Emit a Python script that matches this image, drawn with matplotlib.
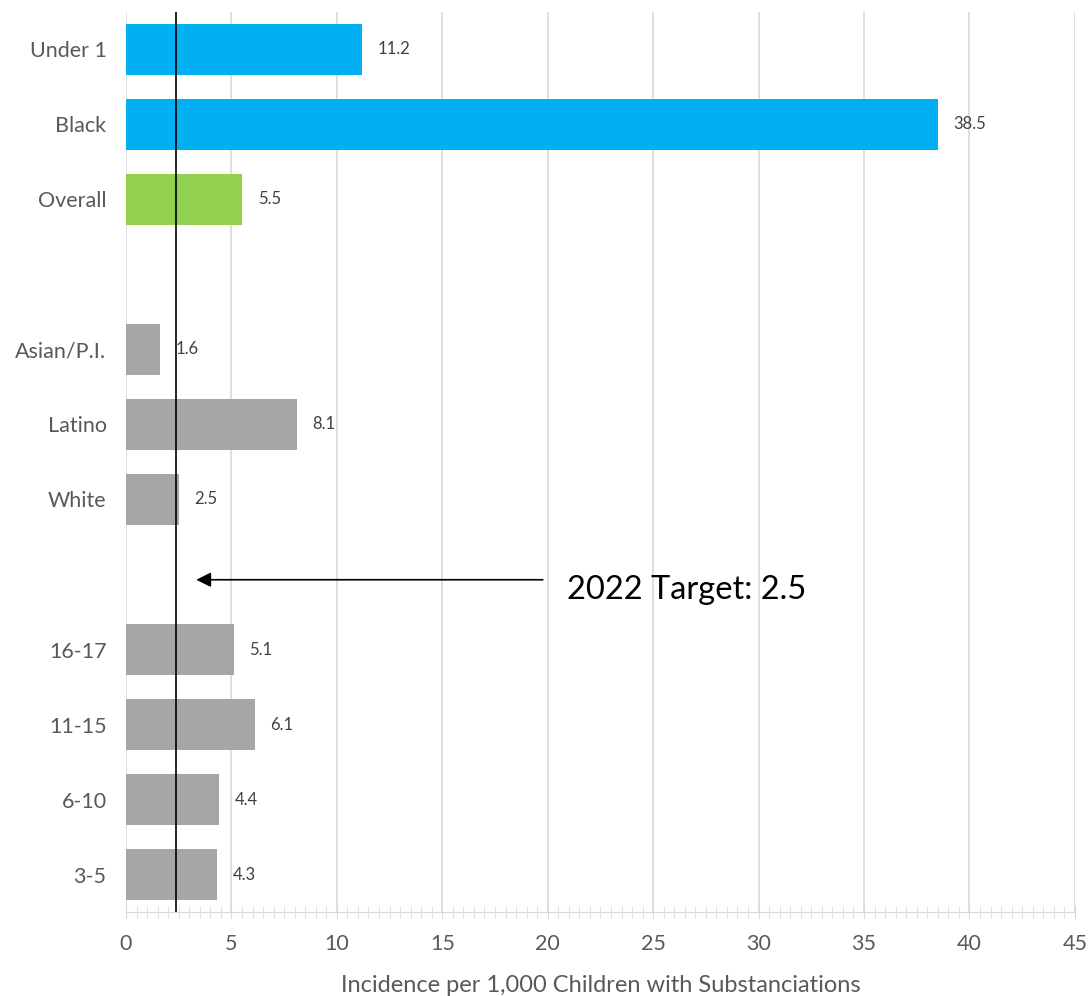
import numpy as np
import matplotlib.pyplot as plt
from matplotlib.ticker import MultipleLocator

plt.rcParams['font.family'] = ['Lato', 'DejaVu Sans']

# data (top to bottom, '' marks an empty slot)
categories = ['Under 1', 'Black', 'Overall', '', 'Asian/P.I.', 'Latino', 'White', '',
              '16-17', '11-15', '6-10', '3-5']
values = [11.2, 38.5, 5.5, None, 1.6, 8.1, 2.5, None, 5.1, 6.1, 4.4, 4.3]
bar_colors = ['#00B0F0', '#00B0F0', '#92D050', None, '#A6A6A6', '#A6A6A6', '#A6A6A6', None,
              '#A6A6A6', '#A6A6A6', '#A6A6A6', '#A6A6A6']
target_line = 2.35
target_label = '2022 Target: 2.5'

fig = plt.figure(figsize=(10.89, 9.96), dpi=100)
ax = fig.add_axes([0.1157, 0.0843, 0.8713, 0.9037])

pos = np.arange(len(categories))
for p, v, c in zip(pos, values, bar_colors):
    if v is None:
        continue
    ax.barh(p, v, height=0.69, color=c, zorder=2)
    ax.text(v + 0.75, p, f'{v}', va='center', ha='left', fontsize=12, color='#404040')

ax.set_ylim(len(categories) - 0.5, -0.5)
ax.set_yticks(pos)
ax.set_yticklabels(categories)
ax.tick_params(axis='y', length=0, pad=14, labelsize=15.5, labelcolor='#595959')

ax.set_xlim(0, 45)
ax.xaxis.set_major_locator(MultipleLocator(5))
ax.xaxis.set_minor_locator(MultipleLocator(0.5))
ax.tick_params(axis='x', which='major', direction='inout', length=10, color='#d9d9d9',
               labelsize=15.5, labelcolor='#595959', pad=11)
ax.tick_params(axis='x', which='minor', direction='inout', length=8, color='#d9d9d9')
ax.grid(axis='x', which='major', color='#d9d9d9', linewidth=1.2, zorder=0)
ax.set_axisbelow(True)

for s in ['top', 'right', 'left']:
    ax.spines[s].set_visible(False)
ax.spines['bottom'].set_color('#d9d9d9')

ax.set_xlabel('Incidence per 1,000 Children with Substanciations', fontsize=17,
              color='#595959', labelpad=15)

ax.axvline(target_line, color='black', linewidth=1.2, zorder=3)
ax.annotate('', xy=(3.2, 7.07), xytext=(19.9, 7.07),
            arrowprops=dict(arrowstyle='-|>', color='black', lw=1.2, mutation_scale=22))
ax.text(20.9, 7.2, target_label, fontsize=23.5, va='center', ha='left', color='black')

fig.savefig('out.png', dpi=100)
